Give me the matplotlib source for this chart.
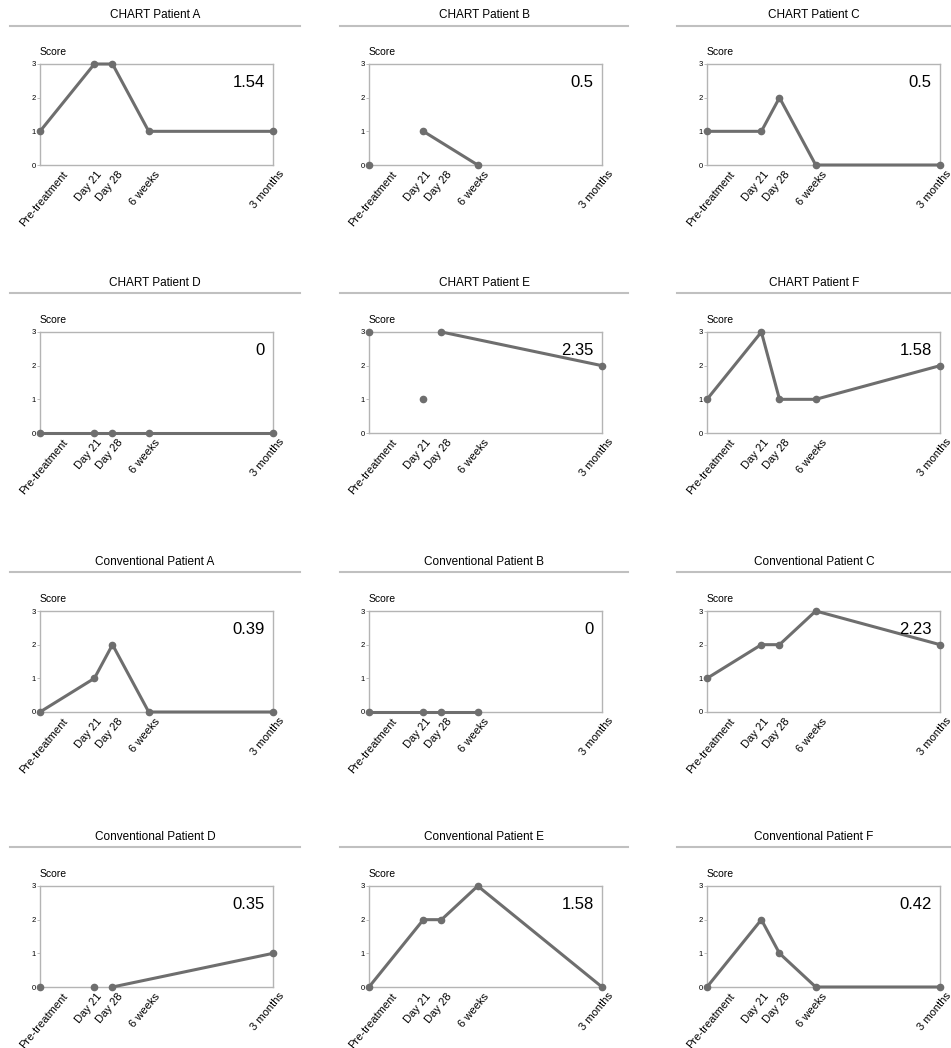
import numpy as np
import matplotlib
matplotlib.use('Agg')
import matplotlib.pyplot as plt
from matplotlib.lines import Line2D
from matplotlib.transforms import ScaledTranslation, blended_transform_factory

plt.rcParams['font.family'] = ['Liberation Sans', 'DejaVu Sans']

# ---------------- data ----------------
days = [0, 21, 28, 42, 90]
day_labels = ['Pre-treatment', 'Day 21', 'Day 28', '6 weeks', '3 months']

titles = ['CHART Patient A', 'CHART Patient B', 'CHART Patient C',
          'CHART Patient D', 'CHART Patient E', 'CHART Patient F',
          'Conventional Patient A', 'Conventional Patient B', 'Conventional Patient C',
          'Conventional Patient D', 'Conventional Patient E', 'Conventional Patient F']

nan = np.nan
scores = [
    [1, 3, 3, 1, 1],
    [0, 1, nan, 0, nan],
    [1, 1, 2, 0, 0],
    [0, 0, 0, 0, 0],
    [3, 1, 3, nan, 2],
    [1, 3, 1, 1, 2],
    [0, 1, 2, 0, 0],
    [0, 0, 0, 0, nan],
    [1, 2, 2, 3, 2],
    [0, 0, 0, nan, 1],
    [0, 2, 2, 3, 0],
    [0, 2, 1, 0, 0],
]

# which time points are joined by a line
joined = [
    [0, 1, 2, 3, 4],
    [1, 3],
    [0, 1, 2, 3, 4],
    [0, 1, 2, 3, 4],
    [2, 4],
    [0, 1, 2, 3, 4],
    [0, 1, 2, 3, 4],
    [0, 1, 2, 3],
    [0, 1, 2, 3, 4],
    [2, 4],
    [0, 1, 2, 3, 4],
    [0, 1, 2, 3, 4],
]

area_values = ['1.54', '0.5', '0.5', '0', '2.35', '1.58',
               '0.39', '0', '2.23', '0.35', '1.58', '0.42']

# ---------------- layout (pixels) ----------------
W, H = 951, 1048
ax_left = [40, 369, 707]
ax_w = 233
ax_top = [64, 332, 611, 886]
ax_h = 101
title_y = [15, 283, 562, 837]
rule_y = [26, 293, 572, 847]
rule_x = [(10, 300), (340, 628), (677, 951)]
label_shift = [22, 2, 5, 5, 5]

line_col = '#6e6e6e'
frame_col = '#b4b4b4'

fig = plt.figure(figsize=(W / 100, H / 100), dpi=100)

for i, title in enumerate(titles):
    r, c = divmod(i, 3)
    l, t = ax_left[c], ax_top[r]
    ax = fig.add_axes([l / W, 1 - (t + ax_h) / H, ax_w / W, ax_h / H])

    y = np.array(scores[i], dtype=float)
    x = np.array(days, dtype=float)
    idx = joined[i]
    ax.plot(x[idx], y[idx], color=line_col, lw=2.2, clip_on=False, zorder=3)
    ok = ~np.isnan(y)
    ax.plot(x[ok], y[ok], 'o', color=line_col, ms=4.5, clip_on=False, zorder=4)

    ax.set_xlim(0, 90)
    ax.set_ylim(0, 3)
    ax.set_yticks([0, 1, 2, 3])
    ax.tick_params(axis='y', labelsize=5.5, length=2, width=0.6, pad=1, color=frame_col)
    ax.set_xticks(days)
    ax.tick_params(axis='x', length=0, labelbottom=False)
    for s in ax.spines.values():
        s.set_color(frame_col)
        s.set_linewidth(1)

    trans = blended_transform_factory(ax.transData, ax.transAxes)
    for d, lab, sh in zip(days, day_labels, label_shift):
        off = ScaledTranslation(sh / 100, -4 / 100, fig.dpi_scale_trans)
        ax.text(d, 0, lab, transform=trans + off, rotation=50, ha='right', va='top',
                rotation_mode='anchor', fontsize=8)

    ax.text(0, 1.07, 'Score', transform=ax.transAxes, fontsize=7.5, va='bottom', ha='left')
    ax.text(0.965, 0.82, area_values[i], transform=ax.transAxes, fontsize=12,
            ha='right', va='center')

    # panel title and rule
    x0, x1 = rule_x[c]
    fig.text((x0 + x1) / 2 / W, 1 - title_y[r] / H, title, ha='center', va='center', fontsize=8.5)
    fig.add_artist(Line2D([x0 / W, x1 / W], [1 - rule_y[r] / H] * 2, color='#c0c0c0', lw=1.5))

fig.savefig('out.png', dpi=100)
